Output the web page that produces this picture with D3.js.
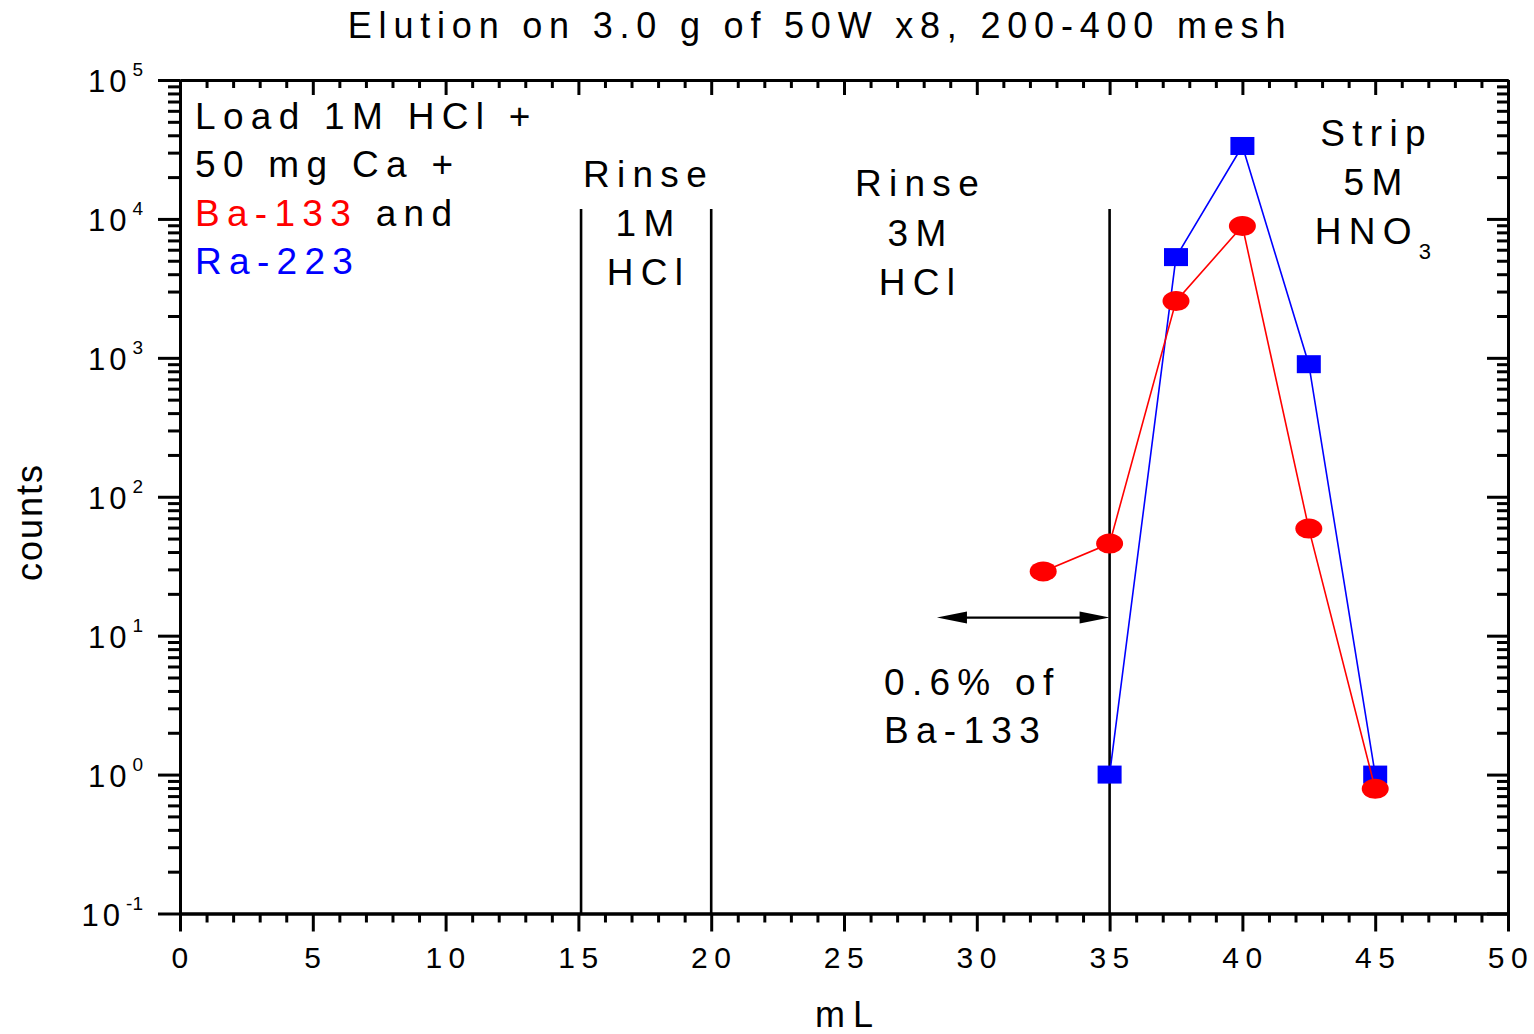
<!DOCTYPE html>
<html>
<head>
<meta charset="utf-8">
<script src="https://cdn.jsdelivr.net/npm/d3@7"></script>
<style>
  body { margin: 0; background: #fff; }
  svg { font-family: 'Liberation Sans', Arial, sans-serif; }
  .axis path, .axis line { stroke: #000; stroke-width: 3; }
  .axis text { display: none; }
</style>
</head>
<body>
<svg width="1534" height="1034"></svg>
<script>
// data
const xTicks = [0, 5, 10, 15, 20, 25, 30, 35, 40, 45, 50];
const yExponents = [-1, 0, 1, 2, 3, 4, 5];

const baVolume = [32.5, 35, 37.5, 40, 42.5, 45];
const baCounts = [29, 46, 2560, 8880, 59, 0.79];

const raVolume = [35, 37.5, 40, 42.5, 45];
const raCounts = [1.0, 5310, 33500, 900, 1.0];

const dividerX = [15.1, 20, 35];
const dividerTop = 1.18e4;

const arrowX = [28.5, 35];
const arrowY = 13.5;

const svg = d3.select('svg');
const margin = { top: 80, right: 26, bottom: 120.5, left: 180 };
const width = +svg.attr('width') - margin.left - margin.right;
const height = +svg.attr('height') - margin.top - margin.bottom;

const x = d3.scaleLinear().domain([0, 50]).range([0, width]);
const y = d3.scaleLog().domain([0.1, 1e5]).range([height, 0]);

const g = svg.append('g')
  .attr('transform', `translate(${margin.left},${margin.top})`);

const xMinor = d3.range(0, 51, 1).filter(v => v % 5 !== 0);
const yMajor = yExponents.map(e => Math.pow(10, e));
const yMinor = [];
yExponents.slice(0, -1).forEach(e => {
  for (let k = 2; k <= 9; k++) yMinor.push(k * Math.pow(10, e));
});

// bottom axis (ticks outward)
g.append('g').attr('class', 'axis')
  .attr('transform', `translate(0,${height})`)
  .call(d3.axisBottom(x).tickValues(xMinor).tickSize(9).tickSizeOuter(0).tickFormat(''));
g.append('g').attr('class', 'axis')
  .attr('transform', `translate(0,${height})`)
  .call(d3.axisBottom(x).tickValues(xTicks).tickSize(18).tickSizeOuter(0).tickFormat(''));
// top axis (ticks inward)
g.append('g').attr('class', 'axis')
  .call(d3.axisBottom(x).tickValues(xMinor).tickSize(8).tickSizeOuter(0).tickFormat(''));
g.append('g').attr('class', 'axis')
  .call(d3.axisBottom(x).tickValues(xTicks).tickSize(15).tickSizeOuter(0).tickFormat(''));
// left axis (ticks outward)
g.append('g').attr('class', 'axis')
  .call(d3.axisLeft(y).tickValues(yMinor).tickSize(12).tickSizeOuter(0).tickFormat(''));
g.append('g').attr('class', 'axis')
  .call(d3.axisLeft(y).tickValues(yMajor).tickSize(22).tickSizeOuter(0).tickFormat(''));
// right axis (ticks inward)
g.append('g').attr('class', 'axis')
  .attr('transform', `translate(${width},0)`)
  .call(d3.axisRight(y).tickValues(yMinor).tickSize(-11).tickSizeOuter(0).tickFormat(''));
g.append('g').attr('class', 'axis')
  .attr('transform', `translate(${width},0)`)
  .call(d3.axisRight(y).tickValues(yMajor).tickSize(-21).tickSizeOuter(0).tickFormat(''));

// x tick labels
g.append('g').selectAll('text')
  .data(xTicks)
  .join('text')
  .attr('x', d => x(d))
  .attr('dx', 3)
  .attr('y', height + 54)
  .attr('text-anchor', 'middle')
  .style('font-size', '30px')
  .style('letter-spacing', '6.5px')
  .text(d => d);

// y tick labels as 10 with superscript
const yLab = g.append('g').selectAll('text')
  .data(yExponents)
  .join('text')
  .attr('x', -37)
  .attr('y', d => y(Math.pow(10, d)) + 12)
  .attr('text-anchor', 'end')
  .style('font-size', '31px');
yLab.append('tspan').style('letter-spacing', '4px').text('10');
yLab.append('tspan')
  .attr('dx', 2)
  .attr('dy', -16)
  .style('font-size', '19px')
  .text(d => d);

// axis titles
svg.append('text')
  .attr('x', margin.left + width / 2 + 4)
  .attr('y', 1027)
  .attr('text-anchor', 'middle')
  .style('font-size', '36px')
  .style('letter-spacing', '8px')
  .text('mL');
svg.append('text')
  .attr('transform', 'translate(42,522) rotate(-90)')
  .attr('text-anchor', 'middle')
  .style('font-size', '36px')
  .style('letter-spacing', '2px')
  .text('counts');
svg.append('text')
  .attr('x', 820)
  .attr('y', 38)
  .attr('text-anchor', 'middle')
  .style('font-size', '36px')
  .style('letter-spacing', '6.8px')
  .text('Elution on 3.0 g of 50W x8, 200-400 mesh');

// divider lines
g.append('g').selectAll('line')
  .data(dividerX)
  .join('line')
  .attr('x1', d => x(d)).attr('x2', d => x(d))
  .attr('y1', y(dividerTop)).attr('y2', height)
  .attr('stroke', '#000')
  .attr('stroke-width', 2.6);

// double arrow
const ax0 = x(arrowX[0]), ax1 = x(arrowX[1]), ay = y(arrowY);
g.append('line')
  .attr('x1', ax0 + 10).attr('x2', ax1 - 10)
  .attr('y1', ay).attr('y2', ay)
  .attr('stroke', '#000').attr('stroke-width', 2.2);
g.append('path')
  .attr('d', `M${ax0},${ay} L${ax0 + 30},${ay - 6} L${ax0 + 30},${ay + 6} Z`
    + ` M${ax1},${ay} L${ax1 - 30},${ay - 6} L${ax1 - 30},${ay + 6} Z`)
  .attr('fill', '#000');

// series
const raData = raVolume.map((v, i) => ({ v, c: raCounts[i] }));
const baData = baVolume.map((v, i) => ({ v, c: baCounts[i] }));
const line = d3.line().x(d => x(d.v)).y(d => y(d.c));

g.append('path').datum(raData)
  .attr('d', line).attr('fill', 'none')
  .attr('stroke', '#0000ff').attr('stroke-width', 1.6);
g.append('g').selectAll('rect')
  .data(raData)
  .join('rect')
  .attr('x', d => x(d.v) - 12)
  .attr('y', d => y(d.c) - 9)
  .attr('width', 24).attr('height', 18)
  .attr('fill', '#0000ff');

g.append('path').datum(baData)
  .attr('d', line).attr('fill', 'none')
  .attr('stroke', '#ff0000').attr('stroke-width', 1.6);
g.append('g').selectAll('ellipse')
  .data(baData)
  .join('ellipse')
  .attr('cx', d => x(d.v))
  .attr('cy', d => y(d.c))
  .attr('rx', 13.5).attr('ry', 10)
  .attr('fill', '#ff0000');

// annotations
function note(lines, cx, y0, step, anchor) {
  const t = svg.append('text')
    .attr('text-anchor', anchor)
    .style('font-size', '37px')
    .style('letter-spacing', '7.3px');
  lines.forEach((l, i) => {
    const ts = t.append('tspan')
      .attr('x', cx)
      .attr('y', y0 + i * step)
      .attr('dx', anchor === 'middle' ? 3.5 : 0)
      .attr('fill', l.color || '#000');
    l.parts.forEach(p => {
      const s = ts.append('tspan').attr('fill', p.color || null).text(p.text);
      if (p.sub) s.style('font-size', '22px').attr('dy', 15);
    });
  });
  return t;
}

note([
  { parts: [{ text: 'Load 1M HCl +' }] },
  { parts: [{ text: '50 mg Ca +' }] },
  { parts: [{ text: 'Ba-133', color: '#ff0000' }, { text: ' and' }] },
  { parts: [{ text: 'Ra-223', color: '#0000ff' }] }
], 195, 129, 48.3, 'start');

note([
  { parts: [{ text: 'Rinse' }] },
  { parts: [{ text: '1M' }] },
  { parts: [{ text: 'HCl' }] }
], 645, 187, 49, 'middle');

note([
  { parts: [{ text: 'Rinse' }] },
  { parts: [{ text: '3M' }] },
  { parts: [{ text: 'HCl' }] }
], 917, 196, 49.5, 'middle');

note([
  { parts: [{ text: 'Strip' }] },
  { parts: [{ text: '5M' }] },
  { parts: [{ text: 'HNO' }, { text: '3', sub: true }] }
], 1373, 146, 49, 'middle');

note([
  { parts: [{ text: '0.6% of' }] },
  { parts: [{ text: 'Ba-133' }] }
], 884, 695, 48, 'start');
</script>
</body>
</html>
